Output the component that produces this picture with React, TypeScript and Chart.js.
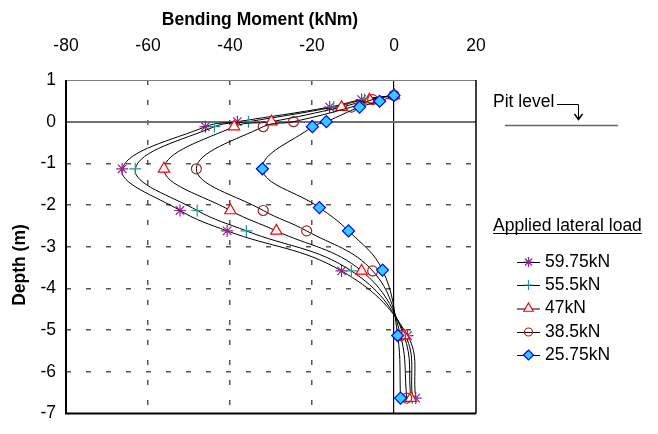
import React, { useEffect, useRef } from 'react';
import { Chart, registerables } from 'chart.js';
import { drawPoint } from 'chart.js/helpers';

Chart.register(...registerables);

const FONT = '"Liberation Sans", Arial, sans-serif';
const FS = 17.5;

// depths (m) of the gauges
const depthsMain = [0.63, 0.53, 0.35, 0.0, -0.12, -1.13, -2.13, -2.62, -3.58, -5.13, -6.63];
const depthsDiamond = [0.63, 0.49, 0.35, 0.0, -0.12, -1.13, -2.06, -2.62, -3.56, -5.13, -6.63];

// bending moments (kNm)
const m5975 = [0, -7.9, -15.7, -38.2, -46.0, -66.3, -52.2, -40.7, -12.8, 3.3, 5.3];
const m555 = [0, -7.2, -14.7, -35.5, -43.8, -63.1, -48.0, -36.0, -10.4, 2.8, 4.5];
const m47 = [0, -6.0, -12.8, -29.9, -39.0, -56.1, -39.9, -28.7, -7.9, 2.4, 4.1];
const m385 = [0, -5.2, -10.4, -24.5, -31.9, -48.2, -31.9, -21.3, -5.2, 1.6, 3.1];
const m2575 = [0, -3.5, -8.4, -16.5, -19.9, -32.1, -18.2, -11.1, -2.8, 0.9, 1.6];

const seriesLabels = ['59.75kN', '55.5kN', '47kN', '38.5kN', '25.75kN'];
const xTicks = [-80, -60, -40, -20, 0, 20];
const yTicks = [1, 0, -1, -2, -3, -4, -5, -6, -7];

const styles = [
  { pointStyle: 'star', radius: 6, border: '#8e238e', fill: 'rgba(0,0,0,0)' },
  { pointStyle: 'cross', radius: 6, border: '#2a9494', fill: 'rgba(0,0,0,0)' },
  { pointStyle: 'triangle', radius: 6.5, border: '#ff0000', fill: '#ffffff' },
  { pointStyle: 'circle', radius: 5, border: '#9a2a2a', fill: 'rgba(0,0,0,0)' },
  { pointStyle: 'rectRot', radius: 6, border: '#0000ff', fill: '#33ccff' },
];

const seriesValues = [m5975, m555, m47, m385, m2575];
const seriesDepths = [depthsMain, depthsMain, depthsMain, depthsMain, depthsDiamond];

const decor = {
  id: 'decor',
  beforeDatasetsDraw(chart: any) {
    const { ctx, chartArea: a } = chart;
    ctx.save();
    // top border (gray)
    ctx.strokeStyle = '#808080';
    ctx.lineWidth = 1;
    ctx.beginPath();
    ctx.moveTo(a.left, a.top + 0.5);
    ctx.lineTo(a.right, a.top + 0.5);
    ctx.stroke();
    // right border
    ctx.strokeStyle = '#000';
    ctx.lineWidth = 1.5;
    ctx.beginPath();
    ctx.moveTo(a.right, a.top);
    ctx.lineTo(a.right, a.bottom);
    ctx.stroke();
    // left and bottom borders
    ctx.lineWidth = 2;
    ctx.beginPath();
    ctx.moveTo(a.left, a.top);
    ctx.lineTo(a.left, a.bottom);
    ctx.lineTo(a.right, a.bottom);
    ctx.stroke();
    ctx.restore();
  },
  afterDraw(chart: any) {
    const { ctx } = chart;
    ctx.save();
    ctx.fillStyle = '#000';
    // axis titles
    ctx.font = `bold ${FS}px ${FONT}`;
    ctx.textAlign = 'center';
    ctx.textBaseline = 'middle';
    ctx.fillText('Bending Moment (kNm)', 260, 20);
    ctx.save();
    ctx.translate(20, 265);
    ctx.rotate(-Math.PI / 2);
    ctx.fillText('Depth (m)', 0, 0);
    ctx.restore();

    // Pit level annotation
    ctx.font = `${FS}px ${FONT}`;
    ctx.textAlign = 'left';
    ctx.fillText('Pit level', 493, 102);
    ctx.strokeStyle = '#000';
    ctx.lineWidth = 1;
    ctx.beginPath();
    ctx.moveTo(557, 104.5);
    ctx.lineTo(578.5, 104.5);
    ctx.lineTo(578.5, 119);
    ctx.stroke();
    ctx.lineWidth = 1.5;
    ctx.beginPath();
    ctx.moveTo(574.5, 114);
    ctx.lineTo(578.5, 119.5);
    ctx.lineTo(582.5, 114);
    ctx.stroke();
    ctx.strokeStyle = '#666';
    ctx.lineWidth = 1.5;
    ctx.beginPath();
    ctx.moveTo(505, 125.5);
    ctx.lineTo(618, 125.5);
    ctx.stroke();

    // legend heading
    ctx.fillStyle = '#000';
    ctx.textBaseline = 'alphabetic';
    ctx.fillText('Applied lateral load', 493, 231);
    const w = ctx.measureText('Applied lateral load').width;
    ctx.strokeStyle = '#000';
    ctx.lineWidth = 1;
    ctx.beginPath();
    ctx.moveTo(493, 233.5);
    ctx.lineTo(493 + w, 233.5);
    ctx.stroke();

    // legend items
    ctx.textBaseline = 'middle';
    const ys = [262, 285, 308.5, 332, 355];
    seriesLabels.forEach((lab, i) => {
      const y = ys[i];
      ctx.strokeStyle = '#000';
      ctx.lineWidth = 1;
      ctx.beginPath();
      ctx.moveTo(517, y + 0.5);
      ctx.lineTo(540, y + 0.5);
      ctx.stroke();
      const s = styles[i];
      ctx.strokeStyle = s.border;
      ctx.fillStyle = s.fill;
      ctx.lineWidth = 1.2;
      drawPoint(ctx, { pointStyle: s.pointStyle, radius: s.radius - 1, rotation: 0, borderWidth: 1.2 } as any, 528.5, y);
      ctx.fillStyle = '#000';
      ctx.fillText(lab, 545, y);
    });
    ctx.restore();
  },
};

export default function App() {
  const ref = useRef<HTMLCanvasElement>(null);
  useEffect(() => {
    if (!ref.current) return;
    const datasets = seriesLabels.map((label, i) => ({
      label,
      data: seriesValues[i].map((x, k) => ({ x, y: seriesDepths[i][k] })),
      showLine: true,
      borderColor: '#000',
      borderWidth: 1,
      tension: 0.4,
      pointStyle: styles[i].pointStyle as any,
      pointRadius: styles[i].radius,
      pointBorderColor: styles[i].border,
      pointBackgroundColor: styles[i].fill,
      pointBorderWidth: 1.2,
      order: 5 - i,
    }));
    const chart = new Chart(ref.current, {
      type: 'scatter',
      data: { datasets },
      options: {
        responsive: false,
        animation: false,
        layout: { padding: { left: 0, top: 0, right: 182, bottom: 7 } },
        plugins: { legend: { display: false }, tooltip: { enabled: false } },
        scales: {
          x: {
            type: 'linear',
            position: 'top',
            min: xTicks[0],
            max: xTicks[xTicks.length - 1],
            afterBuildTicks: (s: any) => { s.ticks = xTicks.map((v) => ({ value: v })); },
            afterFit: (s: any) => { s.height = 80; },
            ticks: { padding: 23, color: '#000', font: { size: FS, family: FONT } },
            grid: {
              drawTicks: false,
              color: (c: any) => (c.tick && c.tick.value === 0 ? '#000' : c.tick && (c.tick.value === -80 || c.tick.value === 20) ? 'rgba(0,0,0,0)' : '#555'),
              lineWidth: (c: any) => (c.tick && c.tick.value === 0 ? 1.2 : 1.5),
            },
            border: { display: false, dash: (c: any) => (c.tick && c.tick.value === 0 ? [] : [5, 15]) },
          },
          y: {
            type: 'linear',
            position: 'left',
            min: yTicks[yTicks.length - 1],
            max: yTicks[0],
            afterBuildTicks: (s: any) => { s.ticks = yTicks.map((v) => ({ value: v })); },
            afterFit: (s: any) => { s.width = 66; },
            ticks: { padding: 10, color: '#000', font: { size: FS, family: FONT } },
            grid: {
              drawTicks: false,
              color: (c: any) => (c.tick && c.tick.value === 0 ? '#707070' : c.tick && (c.tick.value === 1 || c.tick.value === -7) ? 'rgba(0,0,0,0)' : '#555'),
              lineWidth: (c: any) => (c.tick && c.tick.value === 0 ? 2 : 1.5),
            },
            border: { display: false, dash: (c: any) => (c.tick && c.tick.value === 0 ? [] : [5, 15]) },
          },
        },
      },
      plugins: [decor],
    });
    return () => chart.destroy();
  }, []);
  return (
    <div style={{ position: 'fixed', left: 0, top: 0, width: 658, height: 434, background: '#fff' }}>
      <canvas ref={ref} width={658} height={434} style={{ display: 'block' }} />
    </div>
  );
}
